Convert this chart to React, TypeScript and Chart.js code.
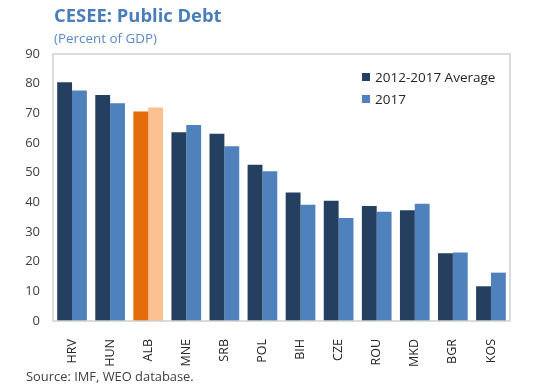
import React, { useEffect, useRef } from "react";
import { Chart, registerables } from "chart.js";

Chart.register(...registerables);

const categories = ["HRV", "HUN", "ALB", "MNE", "SRB", "POL", "BIH", "CZE", "ROU", "MKD", "BGR", "KOS"];
const avg20122017 = [80.5, 76.2, 70.6, 63.6, 63.1, 52.7, 43.3, 40.5, 38.8, 37.3, 22.8, 11.7];
const values2017 = [77.7, 73.4, 72.0, 66.1, 58.9, 50.5, 39.2, 34.7, 36.8, 39.5, 23.1, 16.3];
const yTicks = [0, 10, 20, 30, 40, 50, 60, 70, 80, 90];
const highlight = "ALB";

const NAVY = "#243F60";
const BLUE = "#4F81BD";
const ORANGE = "#E46C0A";
const LIGHT_ORANGE = "#FAC090";
const FONT = "'Open Sans', sans-serif";

const frame = {
  id: "frame",
  afterDatasetsDraw(chart: any) {
    const { ctx, chartArea } = chart;
    ctx.save();
    ctx.strokeStyle = "#CFCFCF";
    ctx.lineWidth = 1.5;
    ctx.strokeRect(chartArea.left, chartArea.top, chartArea.right - chartArea.left, chartArea.bottom - chartArea.top);
    ctx.restore();
  },
};

export default function App() {
  const ref = useRef<HTMLCanvasElement>(null);
  useEffect(() => {
    if (!ref.current) return;
    const chart = new Chart(ref.current, {
      type: "bar",
      data: {
        labels: categories,
        datasets: [
          {
            label: "2012-2017 Average",
            data: avg20122017,
            backgroundColor: categories.map((c) => (c === highlight ? ORANGE : NAVY)),
            categoryPercentage: 0.78,
            barPercentage: 1,
          },
          {
            label: "2017",
            data: values2017,
            backgroundColor: categories.map((c) => (c === highlight ? LIGHT_ORANGE : BLUE)),
            categoryPercentage: 0.78,
            barPercentage: 1,
          },
        ],
      },
      plugins: [frame],
      options: {
        animation: false,
        responsive: false,
        layout: { padding: { left: 0, top: 54, right: 23, bottom: 0 } },
        plugins: { legend: { display: false }, title: { display: false }, tooltip: { enabled: false } },
        scales: {
          x: {
            grid: { display: false },
            border: { display: false },
            ticks: {
              color: "#262626",
              font: { family: FONT, size: 12.5 },
              maxRotation: 90,
              minRotation: 90,
              padding: 10,
            },
            afterFit: (s: any) => {
              s.height = 65;
            },
          },
          y: {
            min: 0,
            max: 90,
            grid: { display: false },
            border: { display: false },
            afterBuildTicks: (s: any) => {
              s.ticks = yTicks.map((v) => ({ value: v }));
            },
            ticks: { color: "#404040", font: { family: FONT, size: 13 }, padding: 5 },
            afterFit: (s: any) => {
              s.width = 53;
            },
          },
        },
      },
    });
    return () => chart.destroy();
  }, []);

  return (
    <div style={{ position: "fixed", left: 0, top: 0, width: 533, height: 386, background: "#fff", fontFamily: FONT }}>
      <canvas ref={ref} width={533} height={386} style={{ position: "absolute", left: 0, top: 0 }} />
      <div style={{ position: "absolute", left: 54, top: 2, fontSize: 18.4, fontWeight: 700, color: "#4A7EBB", whiteSpace: "nowrap", lineHeight: "26px" }}>
        CESEE: Public Debt
      </div>
      <div style={{ position: "absolute", left: 54, top: 28, fontSize: 13.4, color: "#5A8AC6", whiteSpace: "nowrap", lineHeight: "20px" }}>
        (Percent of GDP)
      </div>
      <div style={{ position: "absolute", left: 362, top: 65.5, fontSize: 13.5, color: "#262626", lineHeight: "22.6px" }}>
        <div style={{ display: "flex", alignItems: "center" }}>
          <span style={{ width: 8, height: 8, background: NAVY, marginRight: 5, display: "inline-block" }} />
          2012-2017 Average
        </div>
        <div style={{ display: "flex", alignItems: "center" }}>
          <span style={{ width: 8, height: 8, background: BLUE, marginRight: 5, display: "inline-block" }} />
          2017
        </div>
      </div>
      <div style={{ position: "absolute", left: 26, top: 367, fontSize: 12.9, color: "#404040", whiteSpace: "nowrap", lineHeight: "19px" }}>
        Source: IMF, WEO database.
      </div>
    </div>
  );
}
